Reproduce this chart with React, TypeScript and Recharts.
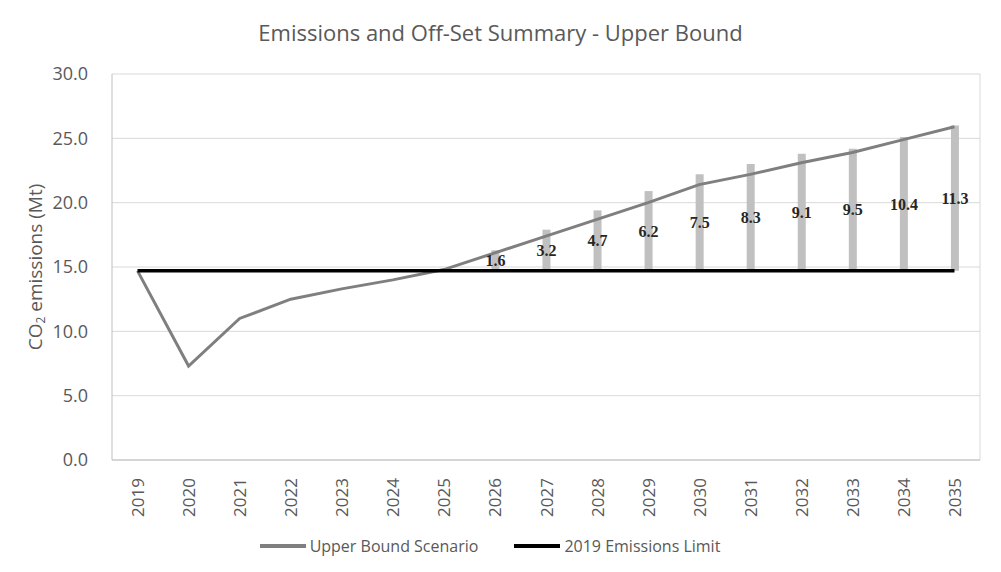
import { ComposedChart, Bar, Line, XAxis, YAxis, CartesianGrid, Legend, LabelList } from "recharts";

const years = ["2019", "2020", "2021", "2022", "2023", "2024", "2025", "2026", "2027", "2028", "2029", "2030", "2031", "2032", "2033", "2034", "2035"];
const upperBound = [14.7, 7.3, 11.0, 12.5, 13.3, 14.0, 14.8, 16.1, 17.4, 18.7, 20.0, 21.4, 22.2, 23.1, 23.9, 24.9, 25.9];
const emissionsLimit = 14.7;
const offsets: (number | null)[] = [null, null, null, null, null, null, null, 1.6, 3.2, 4.7, 6.2, 7.5, 8.3, 9.1, 9.5, 10.4, 11.3];
const yTicks = [0, 5, 10, 15, 20, 25, 30];
const legendItems = [
  { name: "Upper Bound Scenario", color: "#7f7f7f" },
  { name: "2019 Emissions Limit", color: "#000000" },
];

const data = years.map((year, i) => ({
  year,
  scenario: upperBound[i],
  limit: emissionsLimit,
  base: offsets[i] == null ? null : emissionsLimit,
  offset: offsets[i],
}));

const FONT = "'Open Sans', sans-serif";
const GREY_TEXT = "#595959";

function YearTick({ x, y, payload }: any) {
  return (
    <text
      x={x}
      y={y + 10}
      transform={`rotate(-90 ${x} ${y + 10})`}
      textAnchor="end"
      dominantBaseline="central"
      fontFamily={FONT}
      fontSize={17}
      fill={GREY_TEXT}
    >
      {payload.value}
    </text>
  );
}

function YTitle({ viewBox }: any) {
  const cx = 35;
  const cy = viewBox.y + viewBox.height / 2;
  return (
    <text
      x={cx}
      y={cy}
      transform={`rotate(-90 ${cx} ${cy})`}
      textAnchor="middle"
      dominantBaseline="central"
      fontFamily={FONT}
      fontSize={19}
      fill={GREY_TEXT}
    >
      CO
      <tspan fontSize={12} dy={5}>2</tspan>
      <tspan dy={-5}> emissions (Mt)</tspan>
    </text>
  );
}

function LegendContent() {
  return (
    <div style={{ display: "flex", justifyContent: "center", gap: 36, fontFamily: FONT, fontSize: 16, color: GREY_TEXT }}>
      {legendItems.map((p) => (
        <div key={p.name} style={{ display: "flex", alignItems: "center" }}>
          <svg width={46} height={10} style={{ marginRight: 4 }}>
            <line x1={0} y1={5} x2={46} y2={5} stroke={p.color} strokeWidth={4} />
          </svg>
          <span>{p.name}</span>
        </div>
      ))}
    </div>
  );
}

export default function App() {
  return (
    <div style={{ position: "absolute", left: 0, top: 0, width: 1001, height: 572, background: "#fff" }}>
      <div
        style={{
          position: "absolute",
          top: 18,
          left: 0,
          width: 1001,
          textAlign: "center",
          fontFamily: FONT,
          fontSize: 22,
          lineHeight: "28px",
          color: GREY_TEXT,
        }}
      >
        Emissions and Off-Set Summary - Upper Bound
      </div>
      <ComposedChart width={1001} height={572} data={data} margin={{ top: 74, right: 21, left: 0, bottom: 11 }} barGap={0}>
        <CartesianGrid
          stroke="#d9d9d9"
          verticalCoordinatesGenerator={({ offset }: any) => [offset.left + offset.width]}
        />
        <XAxis
          dataKey="year"
          height={75}
          tick={<YearTick />}
          tickLine={false}
          axisLine={{ stroke: "#bfbfbf" }}
          interval={0}
        />
        <YAxis
          width={112}
          domain={[0, 30]}
          ticks={yTicks}
          tickFormatter={(v: number) => v.toFixed(1)}
          tick={{ fontFamily: FONT, fontSize: 18, fill: GREY_TEXT }}
          tickLine={false}
          axisLine={{ stroke: "#bfbfbf" }}
          tickMargin={18}
          label={<YTitle />}
        />
        <Legend verticalAlign="bottom" height={26} content={<LegendContent />} />
        <Bar dataKey="base" stackId="off" fill="transparent" barSize={8} legendType="none" isAnimationActive={false} />
        <Bar dataKey="offset" stackId="off" fill="#c0c0c0" barSize={8} legendType="none" isAnimationActive={false}>
          <LabelList
            dataKey="offset"
            position="center"
            formatter={(v: any) => (v == null ? "" : Number(v).toFixed(1))}
            style={{ fontFamily: "'Liberation Serif', serif", fontWeight: 700, fontSize: 16, fill: "#262626" }}
          />
        </Bar>
        <Line
          dataKey="scenario"
          name="Upper Bound Scenario"
          stroke="#7f7f7f"
          strokeWidth={3}
          dot={false}
          isAnimationActive={false}
        />
        <Line
          dataKey="limit"
          name="2019 Emissions Limit"
          stroke="#000000"
          strokeWidth={3.5}
          dot={false}
          isAnimationActive={false}
        />
      </ComposedChart>
    </div>
  );
}
